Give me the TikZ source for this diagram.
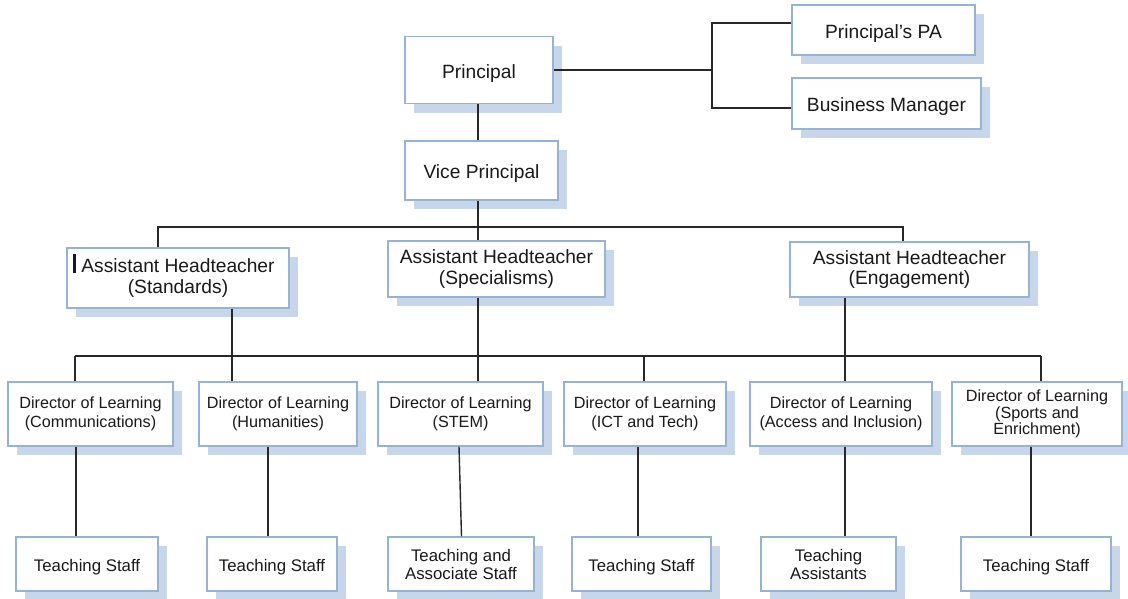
\documentclass[tikz,border=0pt]{standalone}
\usepackage{fontspec}
\setmainfont{Liberation Sans}
\usetikzlibrary{shadows}
\definecolor{boxline}{RGB}{149,179,215}
\definecolor{boxshade}{RGB}{200,214,234}
\definecolor{linkc}{RGB}{40,40,40}
\definecolor{txt}{RGB}{25,25,25}
\tikzset{
  orgbox/.style={draw=boxline, line width=1.2pt, fill=white, inner sep=0pt,
    align=center, text=txt,
    execute at begin node={\rule{0pt}{1.05em}},
    drop shadow={shadow xshift=9pt, shadow yshift=-9pt, fill=boxshade, opacity=1}},
  bigtext/.style={font=\fontsize{19.2}{20.5}\selectfont},
  midtext/.style={font=\fontsize{16.2}{19.3}\selectfont},
  tighttext/.style={font=\fontsize{16.2}{16.5}\selectfont},
  lowtext/.style={font=\fontsize{16.8}{18}\selectfont},
  conn/.style={draw=linkc, line width=1.4pt},
}
\begin{document}
\begin{tikzpicture}[x=1pt,y=-1pt]
\useasboundingbox (0,0) rectangle (1128,598);

% senior leadership
\node[orgbox,bigtext,minimum width=148,minimum height=67] (pr) at (479,70) {Principal};
\node[orgbox,bigtext,minimum width=153,minimum height=59] (vp) at (481.5,170.5) {Vice Principal};
\node[orgbox,bigtext,minimum width=183,minimum height=50] (pa) at (883.5,30) {Principal's PA};
\node[orgbox,bigtext,minimum width=189,minimum height=51] (bm) at (886.5,103.5) {Business Manager};

% assistant headteachers
\node[orgbox,bigtext,minimum width=222,minimum height=60] (ahs) at (178,278) {Assistant Headteacher\\(Standards)};
\node[orgbox,bigtext,minimum width=217,minimum height=56] (ahp) at (496.5,269) {Assistant Headteacher\\(Specialisms)};
\node[orgbox,bigtext,minimum width=239,minimum height=55] (ahe) at (909.5,269.5) {Assistant Headteacher\\(Engagement)};

% directors of learning
\node[orgbox,midtext,minimum width=165,minimum height=64] (d1) at (90.5,414) {Director of Learning\\(Communications)};
\node[orgbox,midtext,minimum width=158,minimum height=64] (d2) at (278,414) {Director of Learning\\(Humanities)};
\node[orgbox,midtext,minimum width=165,minimum height=64] (d3) at (460.5,414) {Director of Learning\\(STEM)};
\node[orgbox,midtext,minimum width=162,minimum height=64] (d4) at (645,414) {Director of Learning\\(ICT and Tech)};
\node[orgbox,midtext,minimum width=182,minimum height=64] (d5) at (841,414) {Director of Learning\\(Access and Inclusion)};
\node[orgbox,tighttext,minimum width=170,minimum height=64] (d6) at (1037,414) {Director of Learning\\(Sports and\\Enrichment)};

% staff
\node[orgbox,lowtext,minimum width=142,minimum height=54] (t1) at (87,564) {Teaching Staff};
\node[orgbox,lowtext,minimum width=130,minimum height=54] (t2) at (272,564) {Teaching Staff};
\node[orgbox,lowtext,minimum width=146,minimum height=54] (t3) at (461,564) {Teaching and\\Associate Staff};
\node[orgbox,lowtext,minimum width=139,minimum height=54] (t4) at (641.5,564) {Teaching Staff};
\node[orgbox,lowtext,minimum width=135,minimum height=54] (t5) at (828.5,564) {Teaching\\Assistants};
\node[orgbox,lowtext,minimum width=150,minimum height=54] (t6) at (1036,564) {Teaching Staff};

% text cursor mark in the Standards box
\draw[txt, line width=2.5pt] (74.5,254) -- (74.5,273);

% rails and drop positions
\coordinate (junc) at (712,0);
\coordinate (payy) at (0,23);
\coordinate (bmyy) at (0,108);
\coordinate (busa) at (0,227);
\coordinate (busb) at (0,356);
\coordinate (xmain) at (478,0);
\coordinate (xahs) at (158,0);
\coordinate (xahe) at (903,0);
\coordinate (xsta) at (232,0);
\coordinate (xeng) at (845,0);
\coordinate (xd1) at (75,0);
\coordinate (xd4) at (644,0);
\coordinate (xd6) at (1041,0);
\coordinate (xt1) at (76,0);
\coordinate (xt2) at (268,0);
\coordinate (xt4) at (638,0);
\coordinate (xt6) at (1031,0);

% principal and office
\draw[conn] (pr.east) -- (pr.east -| junc);
\draw[conn] (pa.west |- payy) -- (junc |- payy) -- (junc |- bmyy) -- (bm.west |- bmyy);
\draw[conn] (pr.south -| xmain) -- (vp.north -| xmain);

% vice principal to assistant headteachers
\draw[conn] (vp.south -| xmain) -- (busa -| xmain);
\draw[conn] (ahs.north -| xahs) -- (busa -| xahs) -- (busa -| xahe) -- (ahe.north -| xahe);
\draw[conn] (busa -| xmain) -- (ahp.north -| xmain);

% assistant headteachers to directors
\draw[conn] (ahs.south -| xsta) -- (busb -| xsta);
\draw[conn] (ahp.south -| xmain) -- (busb -| xmain);
\draw[conn] (ahe.south -| xeng) -- (busb -| xeng);
\draw[conn] (busb -| xd1) -- (busb -| xd6);
\draw[conn] (busb -| xd1) -- (d1.north -| xd1);
\draw[conn] (busb -| xsta) -- (d2.north -| xsta);
\draw[conn] (busb -| xmain) -- (d3.north -| xmain);
\draw[conn] (busb -| xd4) -- (d4.north -| xd4);
\draw[conn] (busb -| xeng) -- (d5.north -| xeng);
\draw[conn] (busb -| xd6) -- (d6.north -| xd6);

% directors to staff
\draw[conn] (d1.south -| xt1) -- (t1.north -| xt1);
\draw[conn] (d2.south -| xt2) -- (t2.north -| xt2);
\draw[conn] ([xshift=-1.5pt]d3.south) -- ([xshift=0.5pt]t3.north);
\draw[conn] (d4.south -| xt4) -- (t4.north -| xt4);
\draw[conn] (d5.south -| xeng) -- (t5.north -| xeng);
\draw[conn] (d6.south -| xt6) -- (t6.north -| xt6);
\end{tikzpicture}
\end{document}
